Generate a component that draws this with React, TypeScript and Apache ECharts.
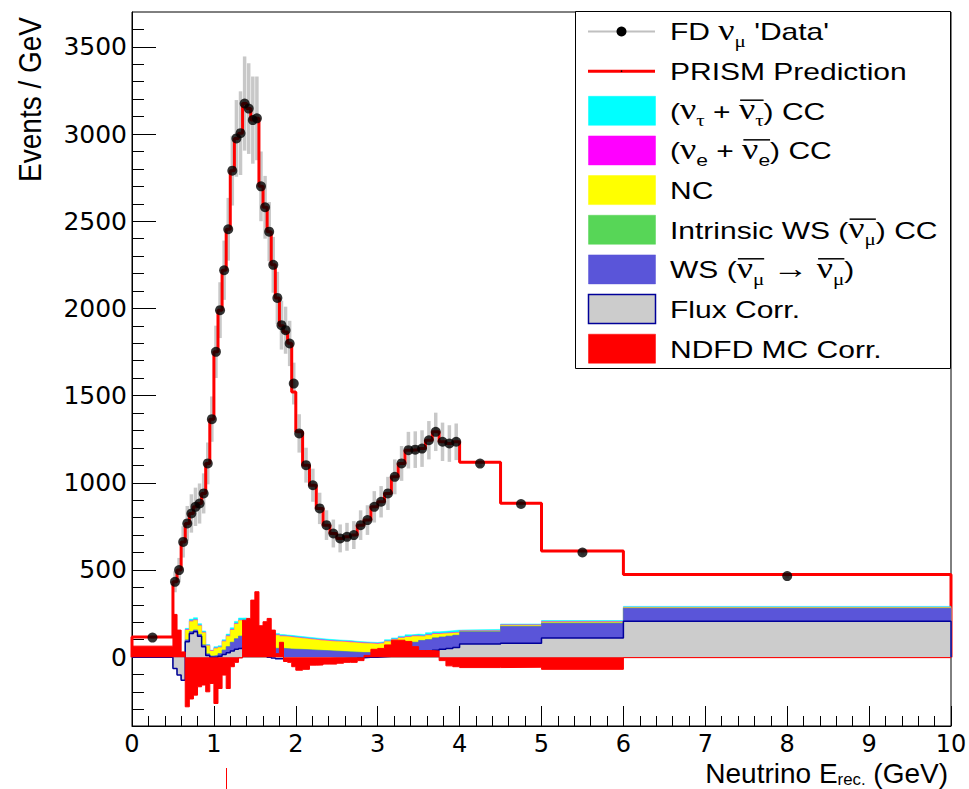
import React, { useEffect, useRef } from "react";
import * as echarts from "echarts";

// ---------------- data ----------------
const binEdges = [
  0, 0.5,
  0.55, 0.6, 0.65, 0.7, 0.75, 0.8, 0.85, 0.9, 0.95, 1.0,
  1.05, 1.1, 1.15, 1.2, 1.25, 1.3, 1.35, 1.4, 1.45, 1.5,
  1.55, 1.6, 1.65, 1.7, 1.75, 1.8, 1.85, 1.9, 1.95, 2.0,
  2.083, 2.167, 2.25, 2.333, 2.417, 2.5, 2.583, 2.667, 2.75, 2.833, 2.917, 3.0,
  3.083, 3.167, 3.25, 3.333, 3.417, 3.5, 3.583, 3.667, 3.75, 3.833, 3.917, 4.0,
  4.5, 5.0, 6.0, 10.0,
];

const fdData = [
  112,
  432, 499, 661, 767, 824, 862, 881, 939, 1111, 1365,
  1751, 1990, 2219, 2454, 2790, 2975, 3005,
  3175, 3146, 3080, 3090,
  2700, 2580, 2440, 2250, 2060, 1904, 1875, 1799, 1569,
  1283, 1101, 986, 853, 757, 709, 681, 690, 700, 757, 786, 862, 891, 939, 1034, 1111, 1187, 1190, 1196, 1244, 1292, 1235, 1225, 1235,
  1110, 878, 600, 465,
];

const prismPrediction = [
  116,
  432, 499, 661, 767, 824, 862, 881, 939, 1111, 1365,
  1751, 1990, 2219, 2454, 2790, 2975, 3005,
  3175, 3146, 3080, 3090,
  2700, 2580, 2440, 2250, 2060, 1900, 1865, 1800, 1520,
  1292, 1101, 986, 853, 757, 709, 681, 690, 700, 757, 786, 862, 891, 939, 1034, 1111, 1187, 1190, 1196, 1244, 1292, 1235, 1225, 1235,
  1118, 883, 608, 474,
];

const dataErrors = [
  8,
  60, 70, 90, 100, 110, 110, 115, 115, 120, 130,
  150, 160, 170, 180, 200, 220, 240,
  270, 260, 250, 240,
  200, 180, 170, 160, 150, 140, 135, 130, 120,
  110, 100, 95, 90, 85, 80, 80, 80, 80, 85, 85, 90, 90, 95, 100, 100, 105, 105, 105, 110, 110, 110, 105, 105,
  20, 15, 12, 10,
];

// stack components (bottom of stack first)
const ndfdMcCorr = [
  63, 245, 155, 30,
  -285, -240, -218, -170, -160, -199, -151,
  -266, -180, -103, -180, -55, -30, -5,
  212, 222, 327, 375,
  180, 203, 222, 155, 20, 85, -25, -30, -55,
  -75, -70, -46, -45, -40, -40, -35, -30, -30, -20, 10, 45, 50, 70, 97, 97, 90, 60, 38, 38, 35, -20, -50, -55,
  -60, -58, -70, -3,
];
const fluxCorr = [
  -63, -310, -258, -162,
  373, 376, 363, 290, 220, 209, 151,
  266, 185, 118, 205, 90, 75, 55,
  -157, -172, -287, -345,
  -160, -193, -222, -160, -30, -95, 13, 18, 43,
  63, 58, 36, 35, 30, 32, 27, 24, 25, 17, -10, -45, -48, -65, -87, -82, -70, -35, -8, -3, 5, 65, 100, 110,
  135, 138, 180, 209,
];
const wrongSign = [
  0, 5, 5, 5,
  10, 10, 10, 10, 10, 8, 6,
  10, 15, 25, 35, 50, 60, 70,
  65, 60, 60, 60,
  60, 60, 60, 60, 60, 60, 60, 58, 57,
  56, 54, 50, 48, 46, 42, 40, 36, 33, 29, 26, 26, 28, 35, 45, 50, 55, 60, 65, 65, 70, 70, 70, 70,
  70, 96, 85, 74,
];
const intrinsicWS = [
  0, 0, 0, 0,
  1, 1, 1, 1, 1, 1, 1,
  1, 1, 1, 1, 1, 1, 1,
  1, 1, 1, 1,
  1, 1, 1, 1, 1, 1, 1, 1, 1,
  1, 1, 1, 1, 1, 1, 1, 1, 1, 1, 1, 1, 1, 1, 1, 1, 1, 1, 1, 1, 1, 1, 1, 1,
  1, 1, 1, 1,
];
const ncBkg = [
  0, 10, 10, 10,
  56, 58, 56, 49, 69, 46, 28,
  39, 34, 49, 59, 69, 84, 89,
  84, 79, 79, 74,
  79, 79, 79, 79, 74, 69, 69, 68, 66,
  63, 61, 59, 57, 55, 55, 55, 55, 53, 53, 51, 49, 49, 49, 44, 44, 39, 34, 22, 24, 21, 19, 17, 14,
  4, 6, 6, 3,
];
const nueCC = [
  0, 2, 2, 2,
  3, 3, 3, 3, 3, 3, 3,
  3, 3, 3, 3, 3, 3, 3,
  3, 3, 3, 3,
  3, 3, 3, 3, 3, 3, 3, 3, 3,
  3, 3, 3, 3, 3, 3, 3, 3, 3, 3, 3, 3, 3, 3, 3, 3, 3, 3, 3, 3, 3, 3, 3, 3,
  2, 2, 2, 2,
];
const nutauCC = [
  0, 2, 2, 2,
  7, 10, 11, 9, 7, 4, 2,
  7, 7, 7, 9, 10, 12, 11,
  17, 17, 12, 12,
  9, 9, 9, 8, 8, 7, 6, 7, 7,
  7, 7, 7, 7, 7, 6, 6, 6, 6, 5, 5, 5, 5, 7, 7, 7, 10, 9, 9, 12, 10, 10, 11, 12,
  7, 5, 6, 5,
];

const yMajorTicks = [0, 500, 1000, 1500, 2000, 2500, 3000, 3500];
const yMinorTicks = [
  -300, -200, -100, 100, 200, 300, 400, 600, 700, 800, 900, 1100, 1200, 1300, 1400,
  1600, 1700, 1800, 1900, 2100, 2200, 2300, 2400, 2600, 2700, 2800, 2900,
  3100, 3200, 3300, 3400, 3600,
];

// ---------------- helpers ----------------
const COLORS = {
  nutau: "#00ffff",
  nue: "#ff00ff",
  nc: "#ffff00",
  green: "#57d657",
  ws: "#5a55d9",
  flux: "#cccccc",
  fluxLine: "#000099",
  red: "#ff0000",
};

function stepPoints(vals: number[], closeEnds: boolean) {
  const pts: number[][] = [];
  if (closeEnds) pts.push([binEdges[0], 0]);
  vals.forEach((v, i) => {
    pts.push([binEdges[i], v]);
    pts.push([binEdges[i + 1], v]);
  });
  if (closeEnds) pts.push([binEdges[binEdges.length - 1], 0]);
  return pts;
}

let measureCtx: CanvasRenderingContext2D | null = null;
function textWidth(t: string, font: string) {
  if (!measureCtx) measureCtx = document.createElement("canvas").getContext("2d");
  measureCtx!.font = font;
  return measureCtx!.measureText(t).width;
}

type Piece = { t: string; serif?: boolean; sub?: boolean; bar?: "start" | "end" };

function richPieces(
  pieces: Piece[], baseSize: number, baseline: number, z: number,
  subScale = 0.7, subShift = 0.28,
) {
  const children: any[] = [];
  let x = 0;
  let barStart = 0;
  for (const p of pieces) {
    const size = p.sub ? baseSize * subScale : p.serif ? baseSize * 1.2 : baseSize;
    const fam = p.serif ? '"Liberation Serif"' : '"Liberation Sans"';
    const font = `${size}px ${fam}`;
    const bl = baseline + (p.sub ? baseSize * subShift : 0);
    const w = textWidth(p.t, font);
    if (p.bar === "start") barStart = x;
    children.push({
      type: "text",
      x,
      y: bl - 0.34 * size,
      z,
      silent: true,
      style: {
        text: p.t,
        font,
        lineHeight: Math.round(size * 0.8),
        fill: "#000",
        align: "left",
        verticalAlign: "middle",
        textAlign: "left",
        textVerticalAlign: "middle",
      },
    });
    x += w;
    if (p.bar === "end") {
      const yb = baseline - baseSize * 0.8;
      children.push({
        type: "line",
        z,
        silent: true,
        shape: { x1: barStart + 1, y1: yb, x2: x, y2: yb },
        style: { stroke: "#000", lineWidth: 1.5 },
      });
    }
  }
  return { children, width: x };
}

const legendRows: { pieces: Piece[]; sym: string; color?: string }[] = [
  { sym: "marker", pieces: [{ t: "FD " }, { t: "ν", serif: true }, { t: "μ", serif: true, sub: true }, { t: " 'Data'" }] },
  { sym: "line", pieces: [{ t: "PRISM Prediction" }] },
  {
    sym: "box", color: COLORS.nutau,
    pieces: [{ t: "(" }, { t: "ν", serif: true }, { t: "τ", serif: true, sub: true }, { t: " + " },
      { t: "ν", serif: true, bar: "start" }, { t: "τ", serif: true, sub: true, bar: "end" }, { t: ") CC" }],
  },
  {
    sym: "box", color: COLORS.nue,
    pieces: [{ t: "(" }, { t: "ν", serif: true }, { t: "e", sub: true }, { t: " + " },
      { t: "ν", serif: true, bar: "start" }, { t: "e", sub: true, bar: "end" }, { t: ") CC" }],
  },
  { sym: "box", color: COLORS.nc, pieces: [{ t: "NC" }] },
  {
    sym: "box", color: COLORS.green,
    pieces: [{ t: "Intrinsic WS (" }, { t: "ν", serif: true, bar: "start" }, { t: "μ", serif: true, sub: true, bar: "end" }, { t: ") CC" }],
  },
  {
    sym: "box", color: COLORS.ws,
    pieces: [{ t: "WS (" }, { t: "ν", serif: true, bar: "start" }, { t: "μ", serif: true, sub: true, bar: "end" },
      { t: " " }, { t: "→", serif: true }, { t: " " },
      { t: "ν", serif: true, bar: "start" }, { t: "μ", serif: true, sub: true, bar: "end" }, { t: ")" }],
  },
  { sym: "flux", color: COLORS.flux, pieces: [{ t: "Flux Corr." }] },
  { sym: "box", color: COLORS.red, pieces: [{ t: "NDFD MC Corr." }] },
];

function buildGraphics() {
  const els: any[] = [];
  const Z = 100;
  // legend box
  els.push({
    type: "rect", z: Z, silent: true,
    shape: { x: 575.5, y: 11.5, width: 375, height: 357 },
    style: { fill: "#fff", stroke: "#000", lineWidth: 1 },
  });
  legendRows.forEach((row, i) => {
    const cy = 31.5 + i * 39.65;
    if (row.sym === "marker") {
      els.push({ type: "line", z: Z + 1, silent: true, shape: { x1: 588, y1: cy, x2: 655, y2: cy }, style: { stroke: "#c0c0c0", lineWidth: 2 } });
      els.push({ type: "circle", z: Z + 2, silent: true, shape: { cx: 621.5, cy, r: 5 }, style: { fill: "#000" } });
    } else if (row.sym === "line") {
      els.push({ type: "line", z: Z + 1, silent: true, shape: { x1: 588, y1: cy, x2: 655, y2: cy }, style: { stroke: COLORS.red, lineWidth: 3 } });
      els.push({ type: "circle", z: Z + 2, silent: true, shape: { cx: 621.5, cy, r: 0.8 }, style: { fill: "#000" } });
    } else {
      els.push({
        type: "rect", z: Z + 1, silent: true,
        shape: { x: 588.5, y: cy - 14.5, width: 67, height: 29 },
        style: row.sym === "flux"
          ? { fill: row.color, stroke: COLORS.fluxLine, lineWidth: 1.5 }
          : { fill: row.color, stroke: row.color, lineWidth: 0.5 },
      });
    }
    const baseline = cy + 8.6;
    const rp = richPieces(row.pieces, 24, baseline, Z + 2);
    els.push({ type: "group", x: 670, y: 0, scaleX: 1.25, z: Z + 2, children: rp.children });
  });

  // y-axis title
  els.push({
    type: "text", z: Z, silent: true,
    x: 30, y: 17, rotation: Math.PI / 2, scaleY: 1.15,
    style: {
      text: "Events / GeV", font: '28px "Liberation Sans"', fill: "#000",
      align: "right", verticalAlign: "middle", textAlign: "right", textVerticalAlign: "middle",
    },
  });

  // x-axis title
  const xt = richPieces([{ t: "Neutrino E" }, { t: "rec.", sub: true }, { t: " (GeV)" }], 28, 783, Z, 0.6, 0.07);
  els.push({ type: "group", x: 948 - xt.width, y: 0, z: Z, children: xt.children });

  // small red tick under the axis
  els.push({ type: "line", z: Z, silent: true, shape: { x1: 226.5, y1: 768, x2: 226.5, y2: 789 }, style: { stroke: COLORS.red, lineWidth: 1 } });
  return els;
}

function buildOption() {
  const comps = [ndfdMcCorr, fluxCorr, wrongSign, intrinsicWS, ncBkg, nueCC, nutauCC];
  const compColors = [COLORS.red, COLORS.flux, COLORS.ws, COLORS.green, COLORS.nc, COLORS.nue, COLORS.nutau];
  const cumulative: number[][] = [];
  comps.forEach((c, k) => {
    cumulative.push(c.map((v, i) => (k === 0 ? v : cumulative[k - 1][i] + v)));
  });

  const stackSeries: any[] = [];
  for (let k = comps.length - 1; k >= 0; k--) {
    const isFlux = k === 1;
    stackSeries.push({
      type: "line",
      name: "stack" + k,
      data: stepPoints(cumulative[k], true),
      showSymbol: false,
      symbol: "none",
      silent: true,
      z: 10 - k + 4,
      clip: true,
      lineStyle: isFlux
        ? { color: COLORS.fluxLine, width: 1.5 }
        : { color: compColors[k], width: k === 0 ? 1 : 0.5 },
      areaStyle: { color: compColors[k], opacity: 1 },
    });
  }

  const centers = fdData.map((_, i) => (binEdges[i] + binEdges[i + 1]) / 2);
  const errData = fdData.map((v, i) => [centers[i], v - dataErrors[i], v + dataErrors[i]]);

  return {
    animation: false,
    grid: {
      left: 132, right: 18, top: 12, bottom: 63,
      show: true, borderColor: "#000", borderWidth: 1, backgroundColor: "transparent",
      outerBoundsMode: "none",
    },
    xAxis: {
      type: "value", min: 0, max: 10, interval: 1,
      axisLine: { onZero: false, lineStyle: { color: "#000", width: 1 } },
      axisTick: { inside: true, length: 20, lineStyle: { color: "#000" } },
      minorTick: { show: true, splitNumber: 5, length: 10, lineStyle: { color: "#000" } },
      axisLabel: {
        fontFamily: "DejaVu Sans", fontSize: 24, color: "#000", margin: 8, lineHeight: 20,
        formatter: (v: number) => String(v),
      },
      splitLine: { show: false },
      minorSplitLine: { show: false },
    },
    yAxis: [
      {
        type: "value", min: -395, max: 3700, position: "left",
        axisLine: { onZero: false, show: true, lineStyle: { color: "#000", width: 1 } },
        axisTick: { show: true, inside: true, length: 24, customValues: yMajorTicks, lineStyle: { color: "#000" } },
        axisLabel: {
          fontFamily: "DejaVu Sans", fontSize: 25, color: "#000", margin: 5, customValues: yMajorTicks,
          formatter: (v: number) => String(v),
        },
        splitLine: { show: false },
      },
      {
        type: "value", min: -395, max: 3700, position: "left",
        axisLine: { onZero: false, show: false },
        axisTick: { show: true, inside: true, length: 12, customValues: yMinorTicks, lineStyle: { color: "#000" } },
        axisLabel: { show: false },
        splitLine: { show: false },
      },
    ],
    series: [
      {
        type: "custom",
        name: "errors",
        silent: true,
        z: 2,
        clip: true,
        data: errData,
        encode: { x: 0, y: [1, 2] },
        renderItem: (params: any, api: any) => {
          const p1 = api.coord([api.value(0), api.value(1)]);
          const p2 = api.coord([api.value(0), api.value(2)]);
          return {
            type: "line",
            shape: { x1: p1[0], y1: p1[1], x2: p2[0], y2: p2[1] },
            style: { stroke: "#c8c8c8", lineWidth: 3.5 },
          };
        },
      },
      {
        type: "line",
        name: "PRISM Prediction",
        data: stepPoints(prismPrediction, true),
        showSymbol: false,
        symbol: "none",
        silent: true,
        z: 3,
        clip: true,
        lineStyle: { color: COLORS.red, width: 3 },
      },
      ...stackSeries,
      {
        type: "scatter",
        name: "FD data",
        data: fdData.map((v, i) => [centers[i], v]),
        symbol: "circle",
        symbolSize: 10,
        silent: true,
        z: 20,
        itemStyle: { color: "#000" },
      },
    ],
    graphic: { elements: buildGraphics() },
  };
}

export default function App() {
  const ref = useRef<HTMLDivElement>(null);
  useEffect(() => {
    if (!ref.current) return;
    const chart = echarts.init(ref.current, undefined, { renderer: "svg" });
    chart.setOption(buildOption() as any);
    return () => chart.dispose();
  }, []);
  return (
    <div
      ref={ref}
      style={{ position: "absolute", left: 0, top: 0, width: 969, height: 789, background: "#fff" }}
    />
  );
}
